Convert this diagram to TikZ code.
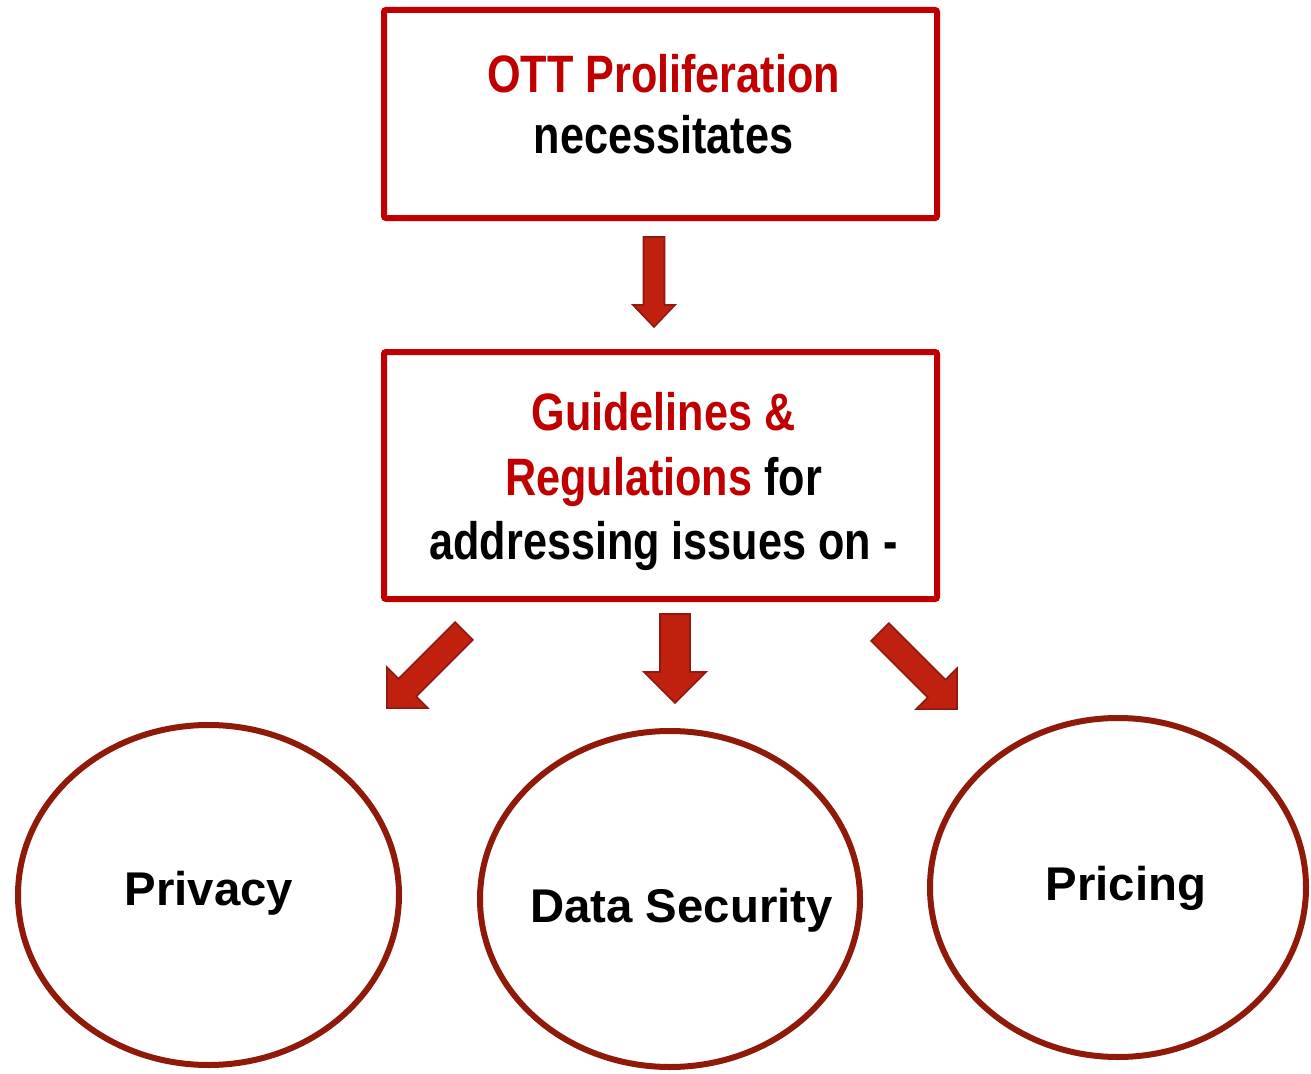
\documentclass[tikz,border=0pt]{standalone}
\usepackage{fontspec}
\setmainfont{Liberation Sans}
\newfontfamily\narrowfont{Liberation Sans}[FakeStretch=0.82]
\usetikzlibrary{shapes.geometric}
\definecolor{ottred}{RGB}{192,0,0}
\definecolor{arrfill}{RGB}{192,32,14}
\definecolor{arrline}{RGB}{140,26,14}
\definecolor{ellline}{RGB}{143,26,10}
\tikzset{
  box/.style={draw=ottred, line width=4.5pt, rounded corners=1.5pt, rectangle, inner sep=0pt},
  oval/.style={draw=ellline, line width=4.5pt, ellipse, inner sep=0pt},
  boxtext/.style={anchor=base, inner sep=0pt, font=\narrowfont\bfseries\fontsize{39.5pt}{40pt}\selectfont},
  ovaltext/.style={anchor=base, inner sep=0pt, font=\bfseries\fontsize{35.5pt}{36pt}\selectfont},
  blockarrow/.style={fill=arrfill, draw=arrline, line width=1.2pt, line join=miter}
}
% #1 x, #2 y, #3 rotation, #4 shaft half width, #5 head half width, #6 head length, #7 total length
\newcommand\BlockArrow[7]{%
  \filldraw[blockarrow, shift={(#1,#2)}, rotate=#3]
    (-#4,0) -- (#4,0) -- (#4,#7-#6) -- (#5,#7-#6) -- (0,#7) -- (-#5,#7-#6) -- (-#4,#7-#6) -- cycle;}
\begin{document}
\begin{tikzpicture}[x=0.75pt, y=-0.75pt]
\useasboundingbox (0,0) rectangle (1311,1074);
% boxes
\node[box, minimum width=414.75pt, minimum height=156pt] (b1) at (660.5,114) {};
\node[box, minimum width=414.75pt, minimum height=185.25pt] (b2) at (660.5,475.5) {};
% box texts
\node[boxtext, text=ottred] (t1a) at (663.5,93) {OTT Proliferation};
\node[boxtext] (t1b) at (663.5,153) {necessitates};
\node[boxtext, text=ottred] (t2a) at (663.5,430) {Guidelines \&};
\node[boxtext] (t2b) at (663.5,495) {{\color{ottred}Regulations} for};
\node[boxtext] (t2c) at (663.5,559) {addressing issues on -};
% ellipses
\node[oval, minimum width=285.75pt, minimum height=255pt] (e1) at (208.5,895) {};
\node[oval, minimum width=285pt, minimum height=252pt] (e2) at (670,899) {};
\node[oval, minimum width=282pt, minimum height=254.25pt] (e3) at (1118,887.5) {};
\node[ovaltext] (l1) at (209,905) {Privacy};
\node[ovaltext] (l2) at (681.5,922) {Data Security};
\node[ovaltext] (l3) at (1126,900) {Pricing};
% block arrows
\BlockArrow{654}{237}{0}{10.5}{21}{22}{90}
\BlockArrow{675}{614}{0}{15}{31}{31}{89}
\BlockArrow{464}{631}{-45}{12.5}{29}{29}{109}
\BlockArrow{880}{632}{45}{12.5}{29}{29}{109}
\end{tikzpicture}
\end{document}
